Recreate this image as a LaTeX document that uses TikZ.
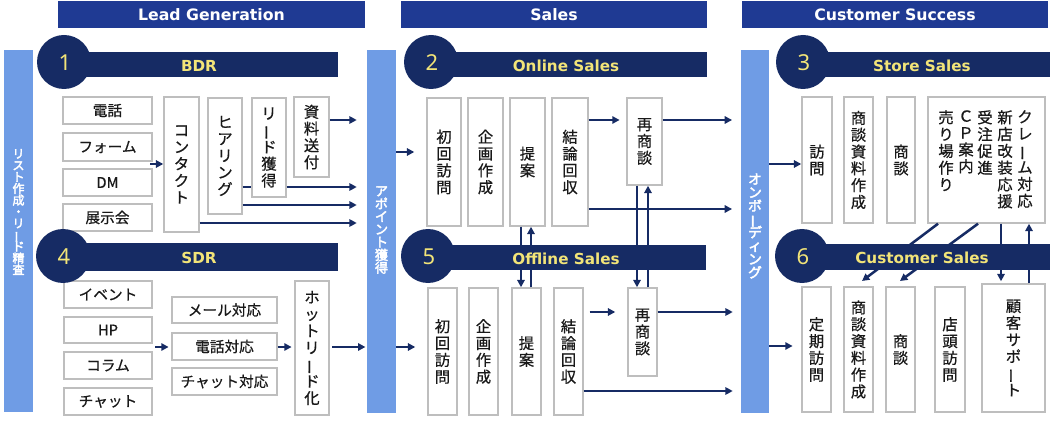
\documentclass[tikz,border=0pt]{standalone}
\usepackage{fontspec}
\usepackage{graphicx}
\newfontfamily\jp{Noto Sans CJK JP}[FakeBold=0.6]
\newfontfamily\jpb{Noto Sans CJK JP}[FakeBold=3]
\newfontfamily\lat{Noto Sans}
\newfontfamily\latb{DejaVu Sans}
\usetikzlibrary{arrows.meta,calc}
\definecolor{hdr}{RGB}{31,58,147}
\definecolor{navy}{RGB}{22,43,100}
\definecolor{lbar}{RGB}{111,156,229}
\definecolor{ylw}{RGB}{242,228,120}
\definecolor{bord}{RGB}{190,190,190}
\definecolor{txt}{RGB}{25,25,25}
\newcommand\vb{\rotatebox[origin=c]{90}{ー}}
\newcommand\bx[7]{\node[#1,minimum width={(#4-#2)*0.75pt},minimum height={(#5-#3)*0.75pt}] (#6) at ({(#2+#4)/2},{(#3+#5)/2}) {#7};}
\newcommand\banner[9]{%
  \node[fill=navy,inner sep=0pt,minimum width={(#4-#2)*0.75pt},minimum height={(#6-#5)*0.75pt}] (#1b) at ({(#2+#4)/2},{(#5+#6)/2}) {};
  \node[circle,fill=navy,inner sep=0pt,minimum size=40.5pt] (#1c) at (#2,#3) {};
  \node[numtxt] (#1n) at (#2+1,#3+1) {#7};
  \node[bannertxt] (#1t) at (#9,{(#5+#6)/2+1}) {#8};}
\begin{document}
\begin{tikzpicture}[x=0.75pt,y=-0.75pt,
 box/.style={draw=bord,fill=white,line width=1.1pt,inner sep=0pt,text=txt,font=\jp\fontsize{11}{12.5}\selectfont,align=center},
 vbox/.style={box,font=\jp\fontsize{11.5}{12.6}\selectfont},
 coltxt/.style={inner sep=0pt,text=txt,font=\jp\fontsize{11.5}{12.6}\selectfont,align=center},
 hdrbar/.style={fill=hdr,text=white,font=\latb\bfseries\fontsize{11.8}{14}\selectfont,inner sep=0pt},
 sidebar/.style={fill=lbar,inner sep=0pt},
 sidetxt/.style={text=white,align=center,inner sep=0pt},
 arr/.style={draw=navy,line width=1.9pt,-{Triangle[length=5.5pt,width=5.5pt]}},
 ln/.style={draw=navy,line width=1.9pt},
 bannertxt/.style={text=ylw,font=\latb\bfseries\fontsize{11.4}{13}\selectfont,inner sep=0pt},
 numtxt/.style={text=ylw,font=\lat\fontsize{16.5}{18}\selectfont,inner sep=0pt}]
\useasboundingbox (0,0) rectangle (1050,424);
% headers
\bx{hdrbar}{58}{1}{365}{28}{hLG}{Lead Generation}
\bx{hdrbar}{401}{1}{707}{28}{hS}{Sales}
\bx{hdrbar}{742}{1}{1048}{28}{hCS}{Customer Success}
% side bars
\bx{sidebar}{4}{50}{33}{412}{barA}{}
\bx{sidebar}{367}{50}{396}{413}{barB}{}
\bx{sidebar}{741}{50}{769}{413}{barC}{}
\node[sidetxt,font={\jpb\fontsize{9}{8.7}\selectfont\lineskiplimit=-20pt}] (tA) at (18.5,212) {リ\\ス\\ト\\作\\成\\・\\リ\\\vb\\ド\\精\\査};
\node[sidetxt,font={\jpb\fontsize{9.8}{9.6}\selectfont\lineskiplimit=-20pt}] (tB) at (381.5,230) {ア\\ポ\\イ\\ン\\ト\\獲\\得};
\node[sidetxt,font={\jpb\fontsize{10.3}{10}\selectfont\lineskiplimit=-20pt}] (tC) at (755,226) {オ\\ン\\ボ\\\vb\\デ\\ィ\\ン\\グ};
% BDR
\bx{box}{63}{97}{152}{124}{b1}{電話}
\bx{box}{63}{133}{152}{161}{b2}{フォーム}
\bx{box}{63}{169}{152}{196}{b3}{DM}
\bx{box}{63}{204}{152}{231}{b4}{展示会}
\bx{vbox}{164}{97}{199}{232}{bC}{コ\\ン\\タ\\ク\\ト}
\bx{vbox}{208}{98}{242}{214}{bH}{ヒ\\ア\\リ\\ン\\グ}
\bx{vbox}{252}{98}{286}{197}{bR}{リ\\\vb\\ド\\獲\\得}
\bx{vbox}{294}{97}{329}{177}{bS}{資\\料\\送\\付}
% SDR
\bx{box}{64}{281}{152}{308}{s1}{イベント}
\bx{box}{64}{317}{152}{343}{s2}{HP}
\bx{box}{64}{352}{152}{379}{s3}{コラム}
\bx{box}{64}{388}{152}{415}{s4}{チャット}
\bx{box}{172}{297}{277}{323}{s5}{メール対応}
\bx{box}{172}{333}{277}{360}{s6}{電話対応}
\bx{box}{172}{368}{277}{395}{s7}{チャット対応}
\bx{vbox}{295}{281}{329}{415}{sH}{ホ\\ッ\\ト\\リ\\\vb\\ド\\化}
% Online
\bx{vbox}{427}{98}{461}{226}{o1}{初\\回\\訪\\問}
\bx{vbox}{468}{98}{503}{226}{o2}{企\\画\\作\\成}
\bx{vbox}{510}{98}{545}{226}{o3}{提\\案}
\bx{vbox}{552}{98}{588}{226}{o4}{結\\論\\回\\収}
\bx{vbox}{627}{98}{662}{185}{o5}{再\\商\\談}
% Offline
\bx{vbox}{428}{288}{457}{415}{f1}{初\\回\\訪\\問}
\bx{vbox}{469}{288}{498}{415}{f2}{企\\画\\作\\成}
\bx{vbox}{512}{288}{541}{415}{f3}{提\\案}
\bx{vbox}{554}{288}{583}{415}{f4}{結\\論\\回\\収}
\bx{vbox}{628}{288}{657}{376}{f5}{再\\商\\談}
% Store
\bx{vbox}{802}{97}{832}{223}{t1}{訪\\問}
\bx{vbox}{844}{97}{873}{223}{t2}{商\\談\\資\\料\\作\\成}
\bx{vbox}{887}{97}{915}{223}{t3}{商\\談}
\bx{box}{928}{97}{1045}{223}{t4}{}
\node[coltxt,anchor=north] (k1) at (1025,110) {ク\\レ\\\vb\\ム\\対\\応};
\node[coltxt,anchor=north] (k2) at (1005,110) {新\\店\\改\\装\\応\\援};
\node[coltxt,anchor=north] (k3) at (985,110) {受\\注\\促\\進};
\node[coltxt,anchor=north] (k4) at (966,110) {Ｃ\\Ｐ\\案\\内};
\node[coltxt,anchor=north] (k5) at (946,110) {売\\り\\場\\作\\り};
% Customer
\bx{vbox}{802}{287}{831}{412}{c1}{定\\期\\訪\\問}
\bx{vbox}{844}{287}{873}{412}{c2}{商\\談\\資\\料\\作\\成}
\bx{vbox}{886}{287}{915}{412}{c3}{商\\談}
\bx{vbox}{935}{287}{965}{412}{c4}{店\\頭\\訪\\問}
\bx{vbox}{982}{284}{1045}{412}{c5}{顧\\客\\サ\\ポ\\\vb\\ト}
% BDR arrows
\draw[arr,shorten <=-2pt] (b2.east |- 0,164) -- (bC.west |- 0,164);
\draw[arr,shorten >=7.5pt] (bS.east |- 0,120) -- (barB.west |- 0,120);
\draw[ln] (bH.east |- 0,187) -- (bR.west |- 0,187);
\draw[arr,shorten >=7.5pt] (bR.east |- 0,187) -- (barB.west |- 0,187);
\draw[arr,shorten >=7.5pt] (bH.east |- 0,205) -- (barB.west |- 0,205);
\draw[arr,shorten >=7.5pt] (bC.east |- 0,223) -- (barB.west |- 0,223);
% SDR arrows
\draw[arr,shorten <=2pt,shorten >=2pt] (s2.east |- 0,347) -- (s6.west |- 0,347);
\draw[arr,shorten >=2pt] (s6.east |- 0,347) -- (sH.west |- 0,347);
\draw[arr,shorten <=2pt,shorten >=1pt] (sH.east |- 0,347) -- (barB.west |- 0,347);
% Sales arrows
\draw[arr,shorten >=9pt] (barB.east |- 0,152) -- (o1.west |- 0,152);
\draw[arr,shorten >=9pt] (barB.east |- 0,347) -- (f1.west |- 0,347);
\draw[arr,shorten >=5pt] (o4.east |- 0,120) -- (o5.west |- 0,120);
\draw[arr,shorten >=6.5pt] (o5.east |- 0,120) -- (barC.west |- 0,120);
\draw[arr,shorten >=6.5pt] (o4.east |- 0,209) -- (barC.west |- 0,209);
\draw[arr] (o5.south -| 637,0) -- (f5.north -| 637,0);
\draw[arr] (f5.north -| 648,0) -- (o5.south -| 648,0);
\draw[arr] (o3.south -| 521,0) -- (f3.north -| 521,0);
\draw[arr] (f3.north -| 531,0) -- (o3.south -| 531,0);
\draw[arr,shorten <=4.5pt,shorten >=9pt] (f4.east |- 0,312) -- (f5.west |- 0,312);
\draw[arr,shorten >=6pt] (f5.east |- 0,312) -- (barC.west |- 0,312);
\draw[arr,shorten >=6pt] (f4.east |- 0,391) -- (barC.west |- 0,391);
% CS arrows
\coordinate (d1) at (862,281);
\coordinate (d2) at (900,281);
\draw[arr] (barC.east |- 0,164) -- (t1.west |- 0,164);
\draw[arr,shorten >=6.5pt] (barC.east |- 0,346) -- (c1.west |- 0,346);
\draw[arr] (t4.south -| 938,0) -- (d1);
\draw[arr] (t4.south -| 978,0) -- (d2);
\draw[arr,shorten >=1.5pt] (t4.south -| 1001,0) -- (c5.north -| 1001,0);
\draw[arr] (c5.north -| 1029,0) -- (t4.south -| 1029,0);
% banners (drawn over the connectors)
\banner{bn1}{64}{62}{338}{52}{77}{1}{BDR}{199}
\banner{bn4}{63}{256}{338}{243}{271}{4}{SDR}{199}
\banner{bn2}{431}{62}{707}{52}{77}{2}{Online Sales}{566}
\banner{bn5}{428}{256}{706}{245}{270}{5}{Offline Sales}{566}
\banner{bn3}{803}{62}{1050}{52}{77}{3}{Store Sales}{922}
\banner{bn6}{802}{256}{1050}{244}{270}{6}{Customer Sales}{922}
\end{tikzpicture}
\end{document}
